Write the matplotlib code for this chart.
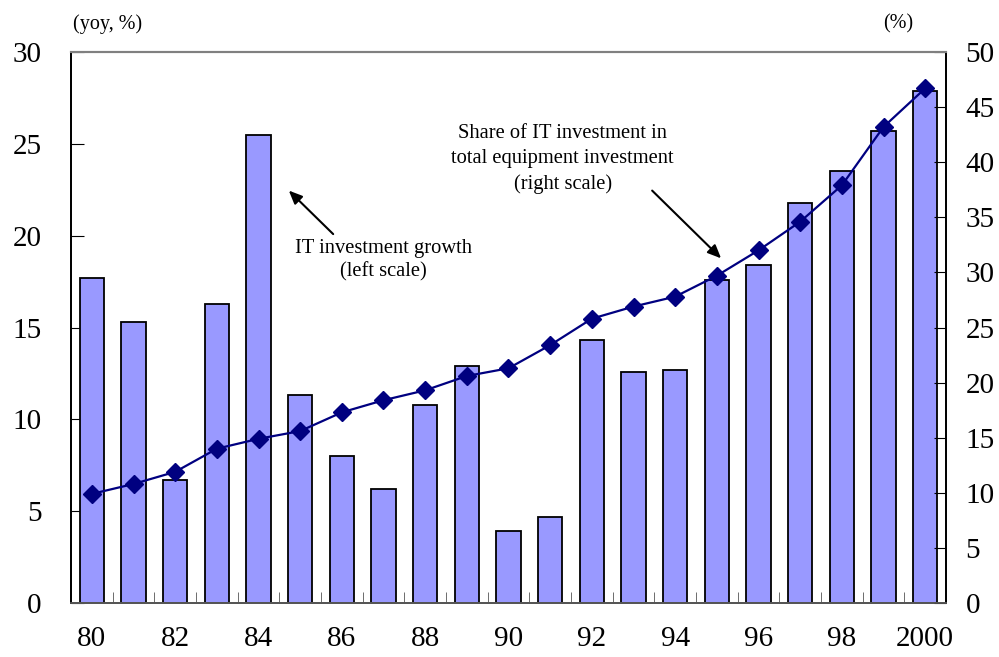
import numpy as np
import matplotlib
matplotlib.use('Agg')
import matplotlib.pyplot as plt

years = ['80', '81', '82', '83', '84', '85', '86', '87', '88', '89', '90',
         '91', '92', '93', '94', '95', '96', '97', '98', '99', '2000']
it_growth = [17.7, 15.3, 6.7, 16.3, 25.5, 11.3, 8.0, 6.2, 10.8, 12.9, 3.9,
             4.7, 14.3, 12.6, 12.7, 17.6, 18.4, 21.8, 23.5, 25.7, 27.9]
it_share = [9.9, 10.8, 11.9, 14.0, 14.9, 15.6, 17.3, 18.4, 19.3, 20.6, 21.3,
            23.4, 25.8, 26.9, 27.8, 29.7, 32.0, 34.6, 37.9, 43.2, 46.7]

plt.rcParams['font.family'] = ['Liberation Serif', 'DejaVu Serif']

fig = plt.figure(figsize=(9.99, 6.57), dpi=100)
ax = fig.add_axes([71 / 999, 1 - 603 / 657, 875 / 999, 551 / 657])
ax2 = ax.twinx()

x = np.arange(len(years))
ax.bar(x, it_growth, width=0.585, color='#9999ff', edgecolor='black', linewidth=1.3, zorder=2)
ax2.plot(x, it_share, color='#000080', linewidth=1.6, marker='D', markersize=9, zorder=3)

ax.set_xlim(-0.5, len(years) - 0.5)
ax.set_ylim(0, 30)
ax2.set_ylim(0, 50)
ax.set_yticks(range(0, 31, 5))
ax2.set_yticks(range(0, 51, 5))

ax.set_xticks(x[::2])
ax.set_xticklabels(years[::2])
ax.set_xticks(np.arange(0.5, len(years) - 1, 1), minor=True)
ax.tick_params(axis='x', which='major', length=0, pad=16.5, labelsize=21)
ax.tick_params(axis='x', which='minor', direction='in', length=8, color='#555555')
ax.tick_params(axis='y', direction='in', length=9, labelsize=21, pad=21)
ax2.tick_params(axis='y', direction='in', length=9, labelsize=21, pad=14)

for a in (ax, ax2):
    a.spines['top'].set_color('#808080')
    a.spines['top'].set_linewidth(1.5)
    a.spines['left'].set_linewidth(1.3)
    a.spines['right'].set_linewidth(1.3)
    a.spines['bottom'].set_color('#555555')
    a.spines['bottom'].set_linewidth(1.3)

fig.text(107.5 / 999, 1 - 24 / 657, '(yoy, %)', ha='center', va='center', fontsize=14.5)
fig.text(898 / 999, 1 - 24 / 657, '(%)', ha='center', va='center', fontsize=14.5)

ax2.annotate('', xy=(4.68, 37.6), xytext=(5.84, 33.3),
             arrowprops=dict(arrowstyle='-|>,head_length=0.8,head_width=0.35',
                             color='black', lw=1.5))
ax2.text(7.0, 31.1, 'IT investment growth\n(left scale)', ha='center', va='center',
         fontsize=14.8, linespacing=1.27)

ax2.annotate('', xy=(15.15, 31.1), xytext=(13.4, 37.6),
             arrowprops=dict(arrowstyle='-|>,head_length=0.8,head_width=0.35',
                             color='black', lw=1.5))
ax2.text(11.3, 40.3, 'Share of IT investment in\ntotal equipment investment\n(right scale)',
         ha='center', va='center', fontsize=14.8, linespacing=1.45)

fig.savefig('out.png', dpi=100)
